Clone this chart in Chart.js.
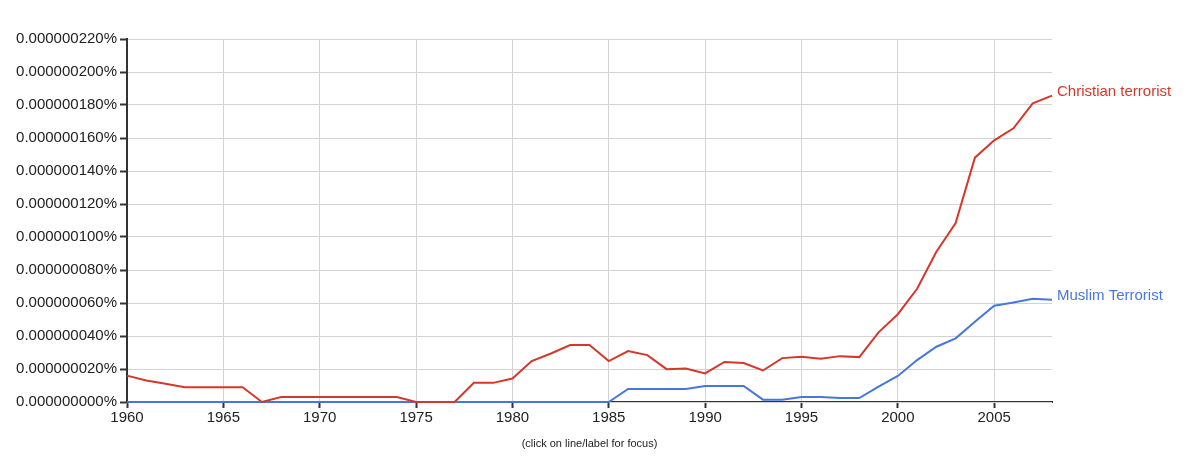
<!DOCTYPE html>
<html>
<head>
<meta charset="utf-8">
<script src="https://cdn.jsdelivr.net/npm/chart.js@4.4.1/dist/chart.umd.min.js"></script>
<style>
    html, body { margin: 0; padding: 0; background: #fff; }
    #wrap { width: 1194px; height: 466px; }
</style>
</head>
<body>
<div id="wrap"><canvas id="ngram" width="1194" height="466"></canvas></div>
<script>
/* Ngram-style chart: Christian terrorist vs Muslim Terrorist, 1960-2008 */

// values are in units of 0.000000001 %
const YEARS = [
    1960, 1961, 1962, 1963, 1964, 1965, 1966, 1967, 1968, 1969,
    1970, 1971, 1972, 1973, 1974, 1975, 1976, 1977, 1978, 1979,
    1980, 1981, 1982, 1983, 1984, 1985, 1986, 1987, 1988, 1989,
    1990, 1991, 1992, 1993, 1994, 1995, 1996, 1997, 1998, 1999,
    2000, 2001, 2002, 2003, 2004, 2005, 2006, 2007, 2008,
];

const CHRISTIAN = [
    16, 13, 11, 9, 9, 9, 9, 0, 3, 3,
    3, 3, 3, 3, 3, 0, 0, 0, 11.6, 11.6,
    14.2, 24.8, 29.4, 34.5, 34.5, 24.8, 30.9, 28.4, 19.9, 20.3,
    17.3, 24.3, 23.6, 19.1, 26.6, 27.4, 26.2, 27.8, 27.2, 42.2,
    53.2, 68.6, 91.1, 108.5, 148.1, 158.6, 165.9, 181, 185.7,
];

const MUSLIM = [
    0, 0, 0, 0, 0, 0, 0, 0, 0, 0,
    0, 0, 0, 0, 0, 0, 0, 0, 0, 0,
    0, 0, 0, 0, 0, 0, 7.9, 7.9, 7.9, 7.9,
    9.7, 9.7, 9.7, 1.4, 1.4, 3.0, 3.0, 2.4, 2.4, 9.3,
    15.8, 25.4, 33.5, 38.6, 48.7, 58.3, 60.3, 62.5, 61.9,
];

const SERIES_NAMES = ['Christian terrorist', 'Muslim Terrorist'];
const Y_MAX = 220;
const Y_STEP = 20;
const X_STEP = 5;

const COLORS = {
    christian: '#d6372b',
    muslim: '#4677df',
    grid: '#d3d3d3',
    axis: '#333333',
    text: '#222222',
};

const FONT = 'Arial, "Liberation Sans", Helvetica, sans-serif';

function toPoints(values) {
    return YEARS.map((yr, i) => ({ x: yr, y: values[i] }));
}

function formatPercent(v) {
    return '0.000000' + String(Math.round(v)).padStart(3, '0') + '%';
}

// draws the series name just right of its last point
const endLabels = {
    id: 'endLabels',
    afterDatasetsDraw(chart) {
        const ctx = chart.ctx;
        ctx.save();
        ctx.font = '15px ' + FONT;
        ctx.textAlign = 'left';
        ctx.textBaseline = 'middle';
        chart.data.datasets.forEach((ds, i) => {
            const pts = chart.getDatasetMeta(i).data;
            const last = pts[pts.length - 1];
            if (!last) return;
            ctx.fillStyle = ds.borderColor;
            ctx.fillText(ds.label, last.x + 5, last.y - 4);
        });
        ctx.restore();
    },
};

const ctx = document.getElementById('ngram');

new Chart(ctx, {
    type: 'line',
    data: {
        datasets: [
            {
                label: SERIES_NAMES[0],
                data: toPoints(CHRISTIAN),
                borderColor: COLORS.christian,
                borderWidth: 2,
                pointRadius: 0,
                tension: 0,
                fill: false,
                clip: 4,
            },
            {
                label: SERIES_NAMES[1],
                data: toPoints(MUSLIM),
                borderColor: COLORS.muslim,
                borderWidth: 2,
                pointRadius: 0,
                tension: 0,
                fill: false,
                clip: 4,
            },
        ],
    },
    options: {
        responsive: false,
        animation: false,
        devicePixelRatio: 1,
        layout: { padding: { top: 39, right: 142, bottom: 0, left: 0 } },
        plugins: {
            legend: { display: false },
            tooltip: { enabled: false },
        },
        scales: {
            x: {
                type: 'linear',
                min: YEARS[0],
                max: YEARS[YEARS.length - 1],
                grid: { color: COLORS.grid, tickColor: COLORS.axis, tickLength: 6, tickWidth: 2 },
                border: { color: COLORS.axis, width: 2, z: -1 },
                ticks: {
                    stepSize: X_STEP,
                    includeBounds: false,
                    padding: 1,
                    maxRotation: 0,
                    color: COLORS.text,
                    font: { family: FONT, size: 15 },
                    callback: v => String(v),
                },
                title: {
                    display: true,
                    text: '(click on line/label for focus)',
                    color: COLORS.text,
                    font: { family: FONT, size: 11 },
                    padding: { top: 4, bottom: 15 },
                },
                afterFit(scale) { scale.height = 64; },
            },
            y: {
                min: 0,
                max: Y_MAX,
                grid: { color: COLORS.grid, tickColor: COLORS.axis, tickLength: 7, tickWidth: 2 },
                border: { color: COLORS.axis, width: 2, z: -1 },
                ticks: {
                    stepSize: Y_STEP,
                    padding: 3,
                    color: COLORS.text,
                    font: { family: FONT, size: 15 },
                    callback: v => formatPercent(v),
                },
                afterFit(scale) { scale.width = 127; },
            },
        },
    },
    plugins: [endLabels],
});
</script>
</body>
</html>
